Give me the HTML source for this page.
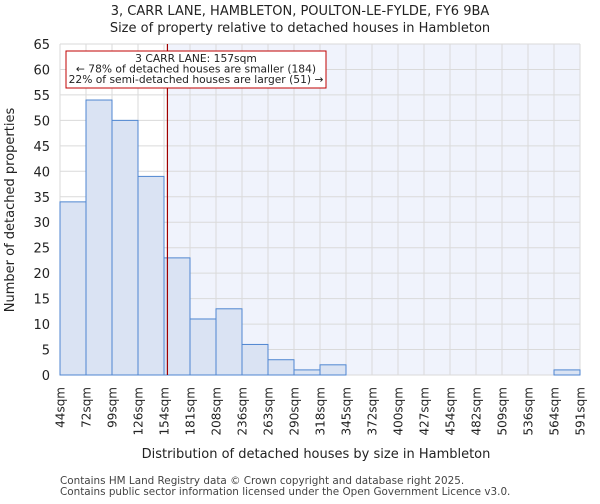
<!DOCTYPE html>
<html><head><meta charset="utf-8"><style>
body{margin:0;background:#fff;font-family:"DejaVu Sans","Liberation Sans",sans-serif;}
</style></head><body>
<svg id="chart" width="600" height="500" xmlns="http://www.w3.org/2000/svg" font-family="DejaVu Sans, Liberation Sans, sans-serif">
<text x="300" y="15" text-anchor="middle" font-size="13" fill="#222">3, CARR LANE, HAMBLETON, POULTON-LE-FYLDE, FY6 9BA</text>
<text x="300" y="32" text-anchor="middle" font-size="13" fill="#222">Size of property relative to detached houses in Hambleton</text>
<g id="plot"></g>
<text x="316" y="458" text-anchor="middle" font-size="13" fill="#222">Distribution of detached houses by size in Hambleton</text>
<text transform="translate(14,210) rotate(-90)" text-anchor="middle" font-size="13" fill="#222">Number of detached properties</text>
<text x="60" y="484" font-size="10.4" fill="#444">Contains HM Land Registry data © Crown copyright and database right 2025.</text>
<text x="60" y="495" font-size="10.4" fill="#444">Contains public sector information licensed under the Open Government Licence v3.0.</text>
</svg>
<script>
const binLabels=["44sqm","72sqm","99sqm","126sqm","154sqm","181sqm","208sqm","236sqm","263sqm","290sqm","318sqm","345sqm","372sqm","400sqm","427sqm","454sqm","482sqm","509sqm","536sqm","564sqm","591sqm"];
const binEdges=[44,72,99,126,154,181,208,236,263,290,318,345,372,400,427,454,482,509,536,564,591];
const counts=[34,54,50,39,23,11,13,6,3,1,2,0,0,0,0,0,0,0,0,1];
const yTicks=[0,5,10,15,20,25,30,35,40,45,50,55,60,65];
const propertySize=157;
const NS="http://www.w3.org/2000/svg";
const L=60,R=580,T=44,B=375,YMAX=65;
const nb=counts.length;
const xi=i=>L+(R-L)*i/nb;
const xv=v=>L+(R-L)*(v-binEdges[0])/(binEdges[nb]-binEdges[0]);
const y=v=>B-(B-T)*v/YMAX;
const g=document.getElementById('plot');
function mk(tag,a){const e=document.createElementNS(NS,tag);for(const k in a)e.setAttribute(k,a[k]);g.appendChild(e);return e;}
const px=xv(propertySize);
let e=mk('rect',{x:px,y:T,width:R-px,height:B-T,fill:'#f0f3fc'});


yTicks.forEach(t=>{
 let l=mk('line',{x1:L,x2:R,y1:y(t),y2:y(t),stroke:'#dadada','stroke-width':1});
 
 
 let tx=mk('text',{x:L-10,y:y(t)+5,'text-anchor':'end','font-size':13,fill:'#222'});
 tx.textContent=t;
 
 
});
binLabels.forEach((lb,i)=>{
 let l=mk('line',{x1:xi(i),x2:xi(i),y1:T,y2:B,stroke:'#dadada','stroke-width':1});
 
 
 let tx=mk('text',{transform:`translate(${xi(i)+4.5},${B+12}) rotate(-90)`,'text-anchor':'end','font-size':12,fill:'#222'});
 tx.textContent=lb;
 
 
});
counts.forEach((c,i)=>{
 if(c<=0)return;
 let r=mk('rect',{x:xi(i),y:y(c),width:xi(i+1)-xi(i),height:B-y(c),fill:'#dae3f3',stroke:'#4f86d0','stroke-width':1});
 
 
});
e=mk('line',{x1:px,x2:px,y1:T,y2:B,stroke:'#a00000','stroke-width':1.2});


e=mk('rect',{x:66,y:51,width:260,height:37,fill:'#fff',stroke:'#c00000','stroke-width':1});


["3 CARR LANE: 157sqm","← 78% of detached houses are smaller (184)","22% of semi-detached houses are larger (51) →"].forEach((s,i)=>{
 let t=mk('text',{x:196,y:62+i*10.5,'text-anchor':'middle','font-size':10.7,fill:'#222'});
 t.textContent=s;
 
 
});
</script>
</body></html>
